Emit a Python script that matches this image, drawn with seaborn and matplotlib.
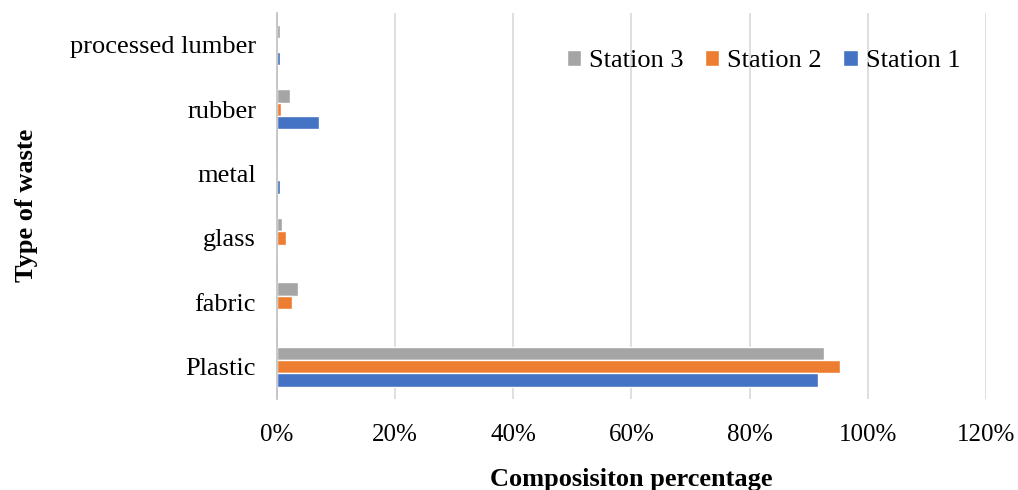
import pandas as pd
import matplotlib.pyplot as plt
import seaborn as sns

waste_types = ['processed lumber', 'rubber', 'metal', 'glass', 'fabric', 'Plastic']
station1 = [0.6, 7.2, 0.6, 0.0, 0.0, 91.5]
station2 = [0.0, 0.7, 0.0, 1.5, 2.5, 95.3]
station3 = [0.45, 2.3, 0.0, 0.9, 3.6, 92.6]
stations = ['Station 3', 'Station 2', 'Station 1']
x_ticks = [0, 20, 40, 60, 80, 100, 120]

df = pd.DataFrame({'waste': waste_types * 3,
                   'station': ['Station 1'] * 6 + ['Station 2'] * 6 + ['Station 3'] * 6,
                   'pct': station1 + station2 + station3})

sns.set_style('white', {'text.color': 'black', 'xtick.color': 'black',
                        'ytick.color': 'black', 'axes.labelcolor': 'black'})
plt.rcParams['font.family'] = ['Liberation Serif', 'DejaVu Serif']

fig = plt.figure(figsize=(10.18, 4.9), dpi=100)
ax = fig.add_axes([0.272, 0.186, 0.6966, 0.788])

pal = {'Station 1': '#4472C4', 'Station 2': '#ED7D31', 'Station 3': '#A5A5A5'}
sns.barplot(data=df, x='pct', y='waste', hue='station', order=waste_types,
            hue_order=stations, palette=pal, orient='h', width=0.62,
            saturation=1, ax=ax)

ax.set_xlim(0, 120)
ax.set_xticks(x_ticks)
ax.set_xticklabels([f'{t}%' for t in x_ticks], fontsize=18)
ax.tick_params(axis='x', pad=18, length=0)
ax.tick_params(axis='y', labelsize=19, length=0, pad=15)
ax.grid(axis='x', color='#d9d9d9', linewidth=1.2)
ax.set_axisbelow(True)
for s in ['top', 'right', 'bottom']:
    ax.spines[s].set_visible(False)
ax.spines['left'].set_color('#bfbfbf')
ax.spines['left'].set_linewidth(1.2)

ax.set_xlabel('Composisiton percentage', fontsize=19, fontweight='bold', labelpad=16)
ax.set_ylabel('Type of waste', fontsize=19, fontweight='bold')
ax.yaxis.set_label_coords(-0.337, 0.5)

ax.legend(loc='upper right', bbox_to_anchor=(0.997, 0.965), ncol=3, frameon=False,
          fontsize=19, handlelength=0.55, handleheight=0.55, handletextpad=0.3,
          columnspacing=0.8)

fig.savefig('out.png', dpi=100)
